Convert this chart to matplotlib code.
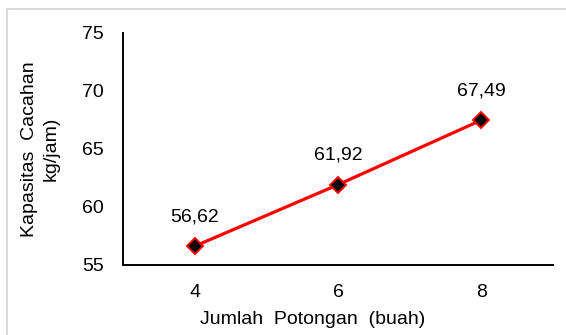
import matplotlib.pyplot as plt
from matplotlib.patches import Rectangle

plt.rcParams['font.family'] = ['Liberation Sans', 'DejaVu Sans']

# jumlah potongan vs kapasitas cacahan
potongan = ['4', '6', '8']
kapasitas = [56.62, 61.92, 67.49]
y_ticks = [55, 60, 65, 70, 75]

fig = plt.figure(figsize=(5.66, 3.35), dpi=100)
ax = fig.add_axes([0.2173, 0.209, 0.7597, 0.6925])

x = range(len(potongan))
ax.plot(x, kapasitas, color='#ff0000', lw=2.3, marker='D', ms=8,
        mfc='black', mec='#ff0000', mew=1.4, zorder=3)

for xi, v in zip(x, kapasitas):
    ax.annotate(f'{v:.2f}'.replace('.', ','), (xi, v), xytext=(0, 18),
                textcoords='offset points', ha='center', va='baseline', fontsize=14)

ax.set_xlim(-0.5, len(potongan) - 0.5)
ax.set_ylim(55, 75)
ax.set_xticks(list(x))
ax.set_xticklabels(potongan)
ax.set_yticks(y_ticks)
ax.tick_params(length=0, labelsize=14, pad=14)

for s in ['top', 'right']:
    ax.spines[s].set_visible(False)
for s in ['left', 'bottom']:
    ax.spines[s].set_linewidth(1.4)

ax.set_xlabel('Jumlah  Potongan  (buah)', fontsize=14)
ax.xaxis.set_label_coords(0.442, -0.2)
ax.set_ylabel('Kapasitas  Cacahan\nkg/jam)', fontsize=14, labelpad=16,
              linespacing=1.35)

# chart area border (only top and left edges fall inside the image)
fig.patches.append(Rectangle((6.5 / 566, -10 / 335), 600 / 566, 336.5 / 335,
                             transform=fig.transFigure, fill=False,
                             edgecolor='#d9d9d9', lw=1.5))

fig.savefig('out.png', dpi=100)
